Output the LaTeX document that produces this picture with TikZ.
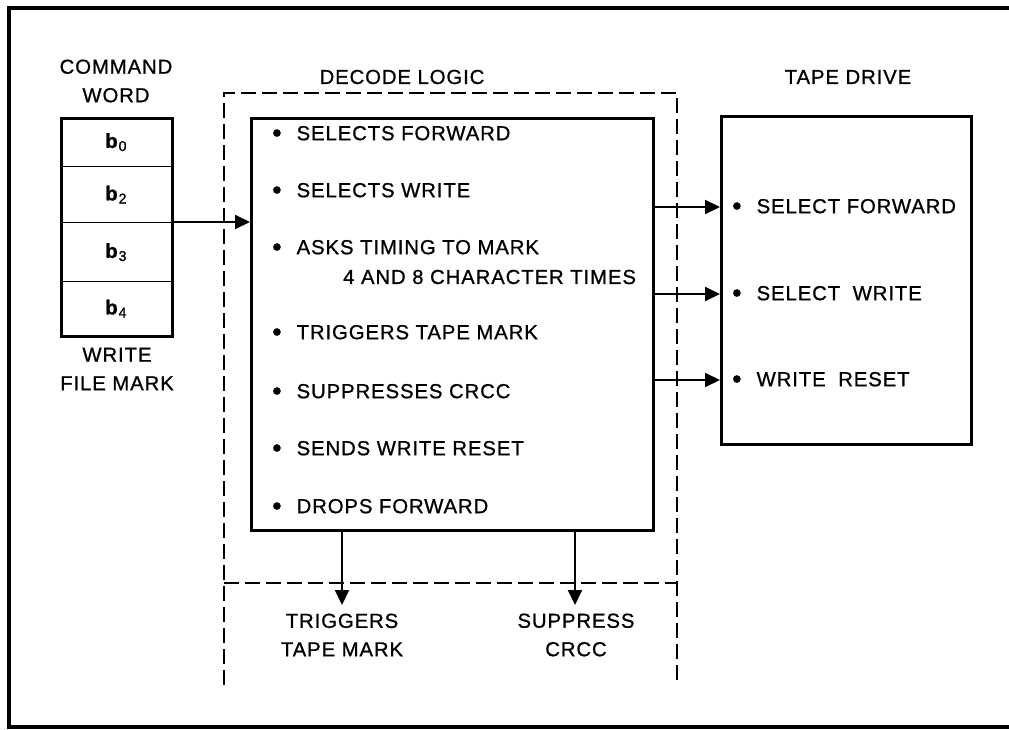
\documentclass[tikz,border=0pt]{standalone}
\usepackage{fontspec}
\setmainfont{Liberation Sans}[LetterSpace=4.5,FakeBold=0.9]
\usetikzlibrary{arrows.meta}
\newcommand\bul{\raisebox{-1.8pt}{\fontsize{27}{27}\selectfont\textbullet}}
\begin{document}
\begin{tikzpicture}[x=1pt,y=-1pt,
  txt/.style={font=\fontsize{20.3}{28.5}\selectfont, inner sep=0pt, align=center},
  item/.style={font=\fontsize{20.3}{28.5}\selectfont, inner sep=0pt, anchor=west},
  box/.style={draw, line width=3pt, inner sep=0pt},
  cell/.style={draw, line width=1.3pt, minimum width=111pt, inner sep=0pt, anchor=north west, font=\fontsize{20.3}{22}\selectfont},
  arr/.style={line width=2pt, -{Triangle[length=15pt,width=14pt]}},
  dline/.style={line width=1.2pt, dash pattern=on 15pt off 6pt},
  frame/.style={line width=3.5pt}
]
\useasboundingbox (0,0) rectangle (1009,730);
% outer frame
\draw[frame] (1015,8) -- (9,8) -- (9,727) -- (1015,727);

% command word
\node[txt] (cwt) at (116,81) {COMMAND\\WORD};
\node[cell, minimum height=49pt] (c0) at (60,117) {\textbf{b}\textsubscript{0}};
\node[cell, minimum height=56pt] (c1) at (60,166) {\textbf{b}\textsubscript{2}};
\node[cell, minimum height=59pt] (c2) at (60,222) {\textbf{b}\textsubscript{3}};
\node[cell, minimum height=54pt] (c3) at (60,281) {\textbf{b}\textsubscript{4}};
\node[box, minimum width=111pt, minimum height=218pt, anchor=north west] (cw) at (60,117) {};
\node[txt] (wfm) at (117,369) {WRITE\\FILE MARK};

% decode logic
\node[txt] (dlt) at (402,77) {DECODE LOGIC};
\draw[dline] (224,685) -- (224,93) -- (677,93) -- (677,685);
\draw[dline] (224,583) -- (677,583);
\node[box, minimum width=402pt, minimum height=412pt, anchor=north west] (main) at (250,117) {};
\node[item] (i1) at (272,134) {\bul\hspace{15pt}SELECTS FORWARD};
\node[item] (i2) at (272,191) {\bul\hspace{15pt}SELECTS WRITE};
\node[item] (i3) at (272,248) {\bul\hspace{15pt}ASKS TIMING TO MARK};
\node[item] (i3b) at (343,277) {4 AND 8 CHARACTER TIMES};
\node[item] (i4) at (272,333) {\bul\hspace{15pt}TRIGGERS TAPE MARK};
\node[item] (i5) at (272,392) {\bul\hspace{15pt}SUPPRESSES CRCC};
\node[item] (i6) at (272,449) {\bul\hspace{15pt}SENDS WRITE RESET};
\node[item] (i7) at (272,507) {\bul\hspace{15pt}DROPS FORWARD};

% tape drive
\node[txt] (tdt) at (848,77) {TAPE DRIVE};
\node[box, minimum width=250pt, minimum height=328pt, anchor=north west] (tape) at (720,115) {};
\node[item] (t1) at (732,207) {\bul\hspace{15pt}SELECT FORWARD};
\node[item] (t2) at (732,294) {\bul\hspace{15pt}SELECT\hspace{6pt} WRITE};
\node[item] (t3) at (732,380) {\bul\hspace{15pt}WRITE\hspace{6pt} RESET};

% outputs
\node[txt] (o1) at (342,635) {TRIGGERS\\TAPE MARK};
\node[txt] (o2) at (576,635) {SUPPRESS\\CRCC};
\coordinate (o1t) at (342,605);
\coordinate (o2t) at (575,605);

% connectors
\draw[arr] (c2.north east) -- (c2.north east -| main.west);
\draw[arr] (main.east |- t1) -- (tape.west |- t1);
\draw[arr] (main.east |- t2) -- (tape.west |- t2);
\draw[arr] (main.east |- t3) -- (tape.west |- t3);
\draw[arr] (main.south -| o1t) -- (o1t);
\draw[arr] (main.south -| o2t) -- (o2t);
\end{tikzpicture}
\end{document}
